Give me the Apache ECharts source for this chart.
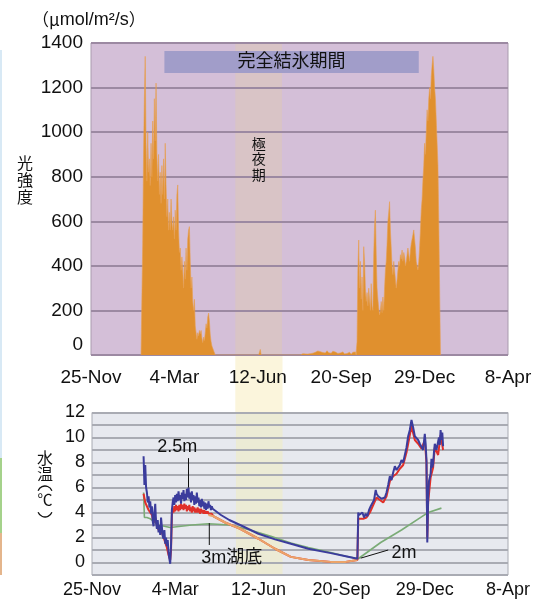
<!DOCTYPE html>
<html><head><meta charset="utf-8">
<script src="https://cdn.jsdelivr.net/npm/echarts@6/dist/echarts.min.js"></script>
<style>html,body{margin:0;padding:0;background:#fff}#c{width:548px;height:601px}</style>
</head><body><div id="c"></div>
<script>
// ---- data ----
const xTickLabels = ['25-Nov','4-Mar','12-Jun','20-Sep','29-Dec','8-Apr'];
const nightStart = 173, nightEnd = 229;      // 極夜期 (days from 25-Nov)
const iceStart = 88, iceEnd = 393;           // 完全結氷期間
const iceBarLow = 1265, iceBarHigh = 1364;

// light intensity, daily values (μmol/m²/s)
const lightP1Start = 61;
const lightP1 = [0,500,900,1150,1340,950,780,1000,820,880,760,950,800,1050,880,1150,960,1220,900,780,900,720,820,680,850,720,880,700,950,760,620,700,560,640,560,700,600,560,620,520,650,560,720,763,560,460,480,380,440,380,300,420,340,480,380,520,560,576,420,300,350,240,200,250,130,100,70,100,85,110,95,110,75,55,80,65,100,140,120,170,188,150,90,60,40,30,20,10,0];
const lightSmallStart = 202;
const lightSmall = [0,25,0];
const lightLowStart = 252;
const lightLow = [2,4,6,3,8,5,10,7,4,9,12,6,10,14,8,11,16,12,9,14,18,12,10,15,20,14,11,17,13,9,15,19,13,10,16,12,8,14,17,11,9,13,16,10,7,12,15,9,6,11,14,8,5,10,13,7,4,9,12,6,3,8,12,15,18,14];
const lightP2Start = 318;
const lightP2 = [15,60,
 380,516,300,420,250,350,200,486,420,300,240,
 280,220,300,250,200,320,220,200,450,580,650,450,300,250,
 210,180,200,240,190,260,200,300,380,420,500,600,640,688,560,480,400,
 360,420,380,340,300,336,380,420,400,450,430,471,420,460,440,400,420,450,480,
 450,420,470,500,520,540,561,520,480,420,400,381,420,480,560,650,700,785,850,
 950,900,1000,1100,1050,1150,1200,1150,1250,1300,1340,1280,1200,1150,1050,950,850,600,300,0];

// water temperature [day, °C]
const temp25m = [[62,8.5],[63,6.2],[64,7.8],[65,6.0],[66,5.6],[67,4.8],[68,5.3],[69,4.4],[70,4.9],[71,3.9],[72,4.5],[73,3.3],[74,2.9],[75,4.0],[76,4.7],[77,3.2],[78,2.7],[79,3.4],[80,2.4],[81,3.0],[82,2.2],[83,3.6],[84,3.5],[85,2.1],[86,1.9],[87,2.6],[88,1.5],[89,2.0],[90,1.3],[91,1.8],[92,0.8],[93,0.3],[94,-0.1],[95,1.4],[96,4.2],[97,4.8],[98,5.2],[99,4.6],[100,5.4],[101,4.8],[102,5.5],[103,4.9],[104,5.7],[105,5.0],[106,5.4],[107,4.7],[108,5.6],[109,5.1],[110,5.8],[111,4.9],[112,5.5],[113,5.0],[114,5.9],[115,5.2],[116,6.0],[117,5.1],[118,5.6],[119,4.8],[120,5.7],[121,5.0],[122,5.4],[123,4.6],[124,5.3],[125,4.7],[126,5.6],[127,4.8],[128,5.2],[129,4.5],[130,5.0],[131,4.4],[132,5.1],[133,4.5],[134,4.9],[135,4.3],[136,4.8],[137,4.2],[138,4.7],[139,4.3],[140,4.9],[141,4.4],[142,4.6],[143,4.2],[144,4.5],[145,4.3],[146,4.4],
 [155,3.8],[165,3.4],[178,3.0],[200,2.3],[220,1.85],[239,1.5],[260,1.1],[287,0.75],[305,0.5],[319,0.3],
 [320,4.0],[321,3.8],[323,3.9],[325,4.0],[327,3.6],[329,3.9],[331,3.7],[333,4.2],[335,4.5],[337,4.4],[339,5.0],[341,5.8],[342,5.5],[344,5.3],[346,5.4],[348,5.1],[350,5.0],[352,5.2],[354,5.6],[356,6.2],[358,6.9],[360,6.6],[362,7.2],[364,7.7],[366,7.4],[368,7.3],[370,7.8],[372,8.2],[374,8.0],[376,8.6],[378,9.2],[380,10.1],[382,10.6],[384,11.4],[386,10.8],[388,10.1],[390,10.2],[392,9.8],[394,9.5],[396,9.4],[398,9.0],[400,10.3],[401,9.5],[402,8.2],[403,1.6],[404,5.0],[405,6.5],[407,7.1],[408,8.3],[409,7.6],[410,7.9],[411,8.8],[412,9.5],[414,9.0],[416,8.9],[417,10.0],[418,9.4],[419,10.6],[420,9.8],[421,10.4],[422,9.3]];
const temp3m = [[62,5.5],[64,4.8],[66,4.5],[68,4.2],[70,4.0],[72,3.8],[74,3.2],[76,3.6],[78,3.0],[80,2.6],[82,2.8],[84,2.4],[86,2.0],[88,1.6],[90,1.2],[92,0.6],[94,0.2],[95,1.0],[96,3.8],[97,4.3],[98,4.0],[99,4.5],[100,4.1],[101,4.6],[102,4.2],[103,4.5],[104,4.1],[105,4.6],[106,4.2],[107,4.7],[108,4.3],[109,4.6],[110,4.2],[111,4.7],[112,4.3],[113,4.6],[114,4.1],[115,4.5],[116,4.2],[117,4.6],[118,4.1],[119,4.4],[120,4.0],[121,4.5],[122,4.1],[123,4.4],[124,4.0],[125,4.3],[126,4.0],[127,4.4],[128,4.0],[129,4.3],[130,3.9],[131,4.3],[132,4.0],[133,4.2],[134,3.9],[135,4.2],[136,3.9],[137,4.1],[138,3.9],[139,4.1],[140,3.9],[141,4.0],[142,3.8],[144,3.9],[146,3.7],
 [160,3.2],[178,2.7],[200,1.9],[220,1.1],[239,0.45],[260,0.2],[287,0.05],[305,0.05],[319,0.2],
 [320,3.5],[322,3.6],[326,3.5],[330,3.6],[334,4.0],[338,4.6],[342,5.2],[346,5.0],[350,4.8],[354,5.3],[358,6.5],[362,6.9],[366,7.1],[370,7.5],[374,7.8],[378,8.8],[382,10.2],[384,10.9],[388,9.8],[392,9.5],[396,9.1],[400,9.8],[402,8.0],[403,2.0],[404,4.8],[407,6.8],[410,7.6],[412,9.2],[416,8.6],[419,10.2],[422,9.0]];
const temp2m = [[62,5.6],[63,3.6],[66,3.6],[70,3.5],[80,3.0],[94,2.8],[120,3.0],[140,3.1],[166,3.0],[190,2.6],[215,2.1],[239,1.55],[260,1.2],[287,0.8],[305,0.5],[320,0.3],[347,1.6],[372,2.6],[396,3.65],[404,4.0],[420,4.35]];
const tempBottom = [[140,3.8],[146,3.7],[160,3.2],[178,2.7],[200,1.9],[220,1.1],[239,0.45],[260,0.2],[287,0.05],[305,0.05],[319,0.2]];

// ---- chart ----
const FF = "'Liberation Sans', Arial, 'Noto Sans CJK JP', sans-serif";
const FJ = "'Noto Sans CJK JP', sans-serif";
function lightSeriesData() {
  const out = [];
  [[lightP1Start, lightP1],[lightSmallStart, lightSmall],[lightLowStart, lightLow],[lightP2Start, lightP2]].forEach(([s, arr]) => {
    out.push([s - 1, 0]);
    arr.forEach((v, i) => out.push([s + i, v]));
    out.push([s + arr.length, 0]);
  });
  return out;
}
const xLabelFmt = v => xTickLabels[Math.round(v / 100)] || '';

const option = {
  animation: false,
  grid: [
    {left: 91, top: 43, width: 417, height: 312, show: true, backgroundColor: '#d4bfd8', borderColor: '#a99bae', borderWidth: 1},
    {left: 92, top: 412.5, width: 416, height: 162.5, show: true, backgroundColor: '#e7e9ef', borderColor: '#a8aab2', borderWidth: 1}
  ],
  xAxis: [
    {gridIndex: 0, type: 'value', min: 0, max: 500, interval: 100, z: 2,
     axisLine: {show: false}, axisTick: {show: false}, splitLine: {show: false},
     axisLabel: {formatter: xLabelFmt, fontSize: 19, color: '#111', margin: 13, fontFamily: FF}},
    {gridIndex: 1, type: 'value', min: 0, max: 500, interval: 100, z: 2,
     axisLine: {show: false}, axisTick: {show: false}, splitLine: {show: false},
     axisLabel: {formatter: xLabelFmt, fontSize: 18, color: '#111', margin: 6, fontFamily: FF}}
  ],
  yAxis: [
    {gridIndex: 0, type: 'value', min: 0, max: 1400, interval: 200, z: 2,
     axisLine: {show: false}, axisTick: {show: false},
     splitLine: {lineStyle: {color: '#9c89a2', width: 2}},
     axisLabel: {fontSize: 19, color: '#111', margin: 8, fontFamily: FF,
       formatter: v => v === 0 ? '{z|0}' : String(v),
       rich: {z: {fontSize: 19, color: '#111', fontFamily: FF, padding: [0, 0, 20, 0]}}}},
    {gridIndex: 1, type: 'value', min: -1, max: 12, interval: 1, z: 2,
     axisLine: {show: false}, axisTick: {show: false},
     splitLine: {lineStyle: {color: '#a9abb3', width: 2}},
     axisLabel: {fontSize: 18, color: '#111', margin: 7, fontFamily: FF,
       formatter: v => (v >= 0 && v % 2 === 0) ? String(v) : ''}}
  ],
  series: [
    {type: 'line', xAxisIndex: 0, yAxisIndex: 0, data: [], silent: true,
     markArea: {silent: true, z: 1, itemStyle: {color: '#d9c4c6'}, data: [[{xAxis: nightStart}, {xAxis: nightEnd}]]}},
    {type: 'line', xAxisIndex: 1, yAxisIndex: 1, data: [], silent: true,
     markArea: {silent: true, z: 1, itemStyle: {color: '#ecebd5'}, data: [[{xAxis: nightStart}, {xAxis: nightEnd}]]}},
    {type: 'line', xAxisIndex: 0, yAxisIndex: 0, data: [], silent: true,
     markArea: {silent: true, z: 5, itemStyle: {color: '#a19dc9'},
       label: {show: true, position: 'inside', color: '#111', fontSize: 18, fontFamily: FF},
       data: [[{name: '完全結氷期間', xAxis: iceStart, yAxis: iceBarLow}, {xAxis: iceEnd, yAxis: iceBarHigh}]]}},
    {name: '光強度', type: 'line', xAxisIndex: 0, yAxisIndex: 0, z: 3, showSymbol: false, smooth: false,
     lineStyle: {width: 0.6, color: '#e8a050'}, areaStyle: {color: '#e0902e', opacity: 1},
     data: lightSeriesData()},
    {name: '2m', type: 'line', xAxisIndex: 1, yAxisIndex: 1, z: 3, showSymbol: false,
     lineStyle: {width: 1.6, color: '#7aab76'}, data: temp2m},
    {name: '3m', type: 'line', xAxisIndex: 1, yAxisIndex: 1, z: 3, showSymbol: false,
     lineStyle: {width: 2, color: '#e0302a'}, data: temp3m},
    {name: '湖底', type: 'line', xAxisIndex: 1, yAxisIndex: 1, z: 3, showSymbol: false,
     lineStyle: {width: 2, color: '#eba46a'}, data: tempBottom},
    {name: '2.5m', type: 'line', xAxisIndex: 1, yAxisIndex: 1, z: 4, showSymbol: false,
     lineStyle: {width: 2, color: '#3b3c9c'}, data: temp25m}
  ]
};

const chart = echarts.init(document.getElementById('c'), null, {renderer: 'canvas'});
chart.setOption(option);

function px(g, d, v) { return chart.convertToPixel({gridIndex: g}, [d, v]); }
function txt(text, p, size, align, vAlign, font) {
  return {type: 'text', x: p[0], y: p[1], z: 10,
    style: {text: text, font: size + 'px ' + (font || FF), fill: '#111', align: align || 'center', verticalAlign: vAlign || 'middle',
            textAlign: align || 'center', textVerticalAlign: vAlign || 'middle'}};
}
function ln(a, b) {
  return {type: 'line', z: 10, shape: {x1: a[0], y1: a[1], x2: b[0], y2: b[1]}, style: {stroke: '#111', lineWidth: 1}};
}
const g1 = px(0, nightStart, 0), g2 = px(1, nightEnd, 12);
const parenR = 7.4, parenA = 1.2;
const graphics = [
  {type: 'rect', z: -1, shape: {x: g1[0], y: g1[1], width: g2[0] - g1[0], height: g2[1] - g1[1]}, style: {fill: '#fbf5dc'}},
  {type: 'rect', z: -1, shape: {x: 0, y: 50, width: 2, height: 408}, style: {fill: '#d8e9f5'}},
  {type: 'rect', z: -1, shape: {x: 0, y: 458, width: 2, height: 75}, style: {fill: '#a5d28b'}},
  {type: 'rect', z: -1, shape: {x: 0, y: 533, width: 2, height: 42}, style: {fill: '#e4b58c'}},
  {type: 'text', z: 10, x: 32, y: 20, style: {
    text: '{j|（μ}{l|mol/m²/s}{j|）}', fill: '#111', align: 'left', verticalAlign: 'middle', textAlign: 'left', textVerticalAlign: 'middle',
    rich: {j: {font: '17px ' + FJ, fill: '#111'}, l: {font: '18px ' + FF, fill: '#111'}}}},
  {type: 'text', z: 10, x: 25, y: 156, style: {text: '光\n強\n度', font: '16px ' + FF, fill: '#111', align: 'center', verticalAlign: 'top', textAlign: 'center', textVerticalAlign: 'top', lineHeight: 17}},
  txt('水', [45, 460], 16), txt('温', [45, 476], 16),
  {type: 'arc', z: 10, shape: {cx: 45, cy: 486 + parenR, r: parenR, startAngle: 1.5 * Math.PI - parenA, endAngle: 1.5 * Math.PI + parenA, clockwise: true},
   style: {stroke: '#111', lineWidth: 1.3, fill: 'none'}},
  txt('℃', [45, 501], 15),
  {type: 'arc', z: 10, shape: {cx: 45, cy: 517 - parenR, r: parenR, startAngle: 0.5 * Math.PI - parenA, endAngle: 0.5 * Math.PI + parenA, clockwise: true},
   style: {stroke: '#111', lineWidth: 1.3, fill: 'none'}},
  {type: 'text', z: 10, x: px(0, (nightStart + nightEnd) / 2, 0)[0], y: 137, style: {text: '極\n夜\n期', font: '14px ' + FF, fill: '#111', align: 'center', verticalAlign: 'top', textAlign: 'center', textVerticalAlign: 'top', lineHeight: 15.5}},
  txt('2.5m', px(1, 102.5, 9.2), 18),
  ln(px(1, 116, 8.35), px(1, 116, 6.0)),
  txt('3m湖底', px(1, 168, 0.35), 18),
  ln(px(1, 141, 3.15), px(1, 141, 1.4)),
  txt('2m', px(1, 375, 0.75), 18),
  ln(px(1, 323, 0.35), px(1, 356, 1.0))
];
chart.setOption({graphic: graphics});
</script>
</body></html>
